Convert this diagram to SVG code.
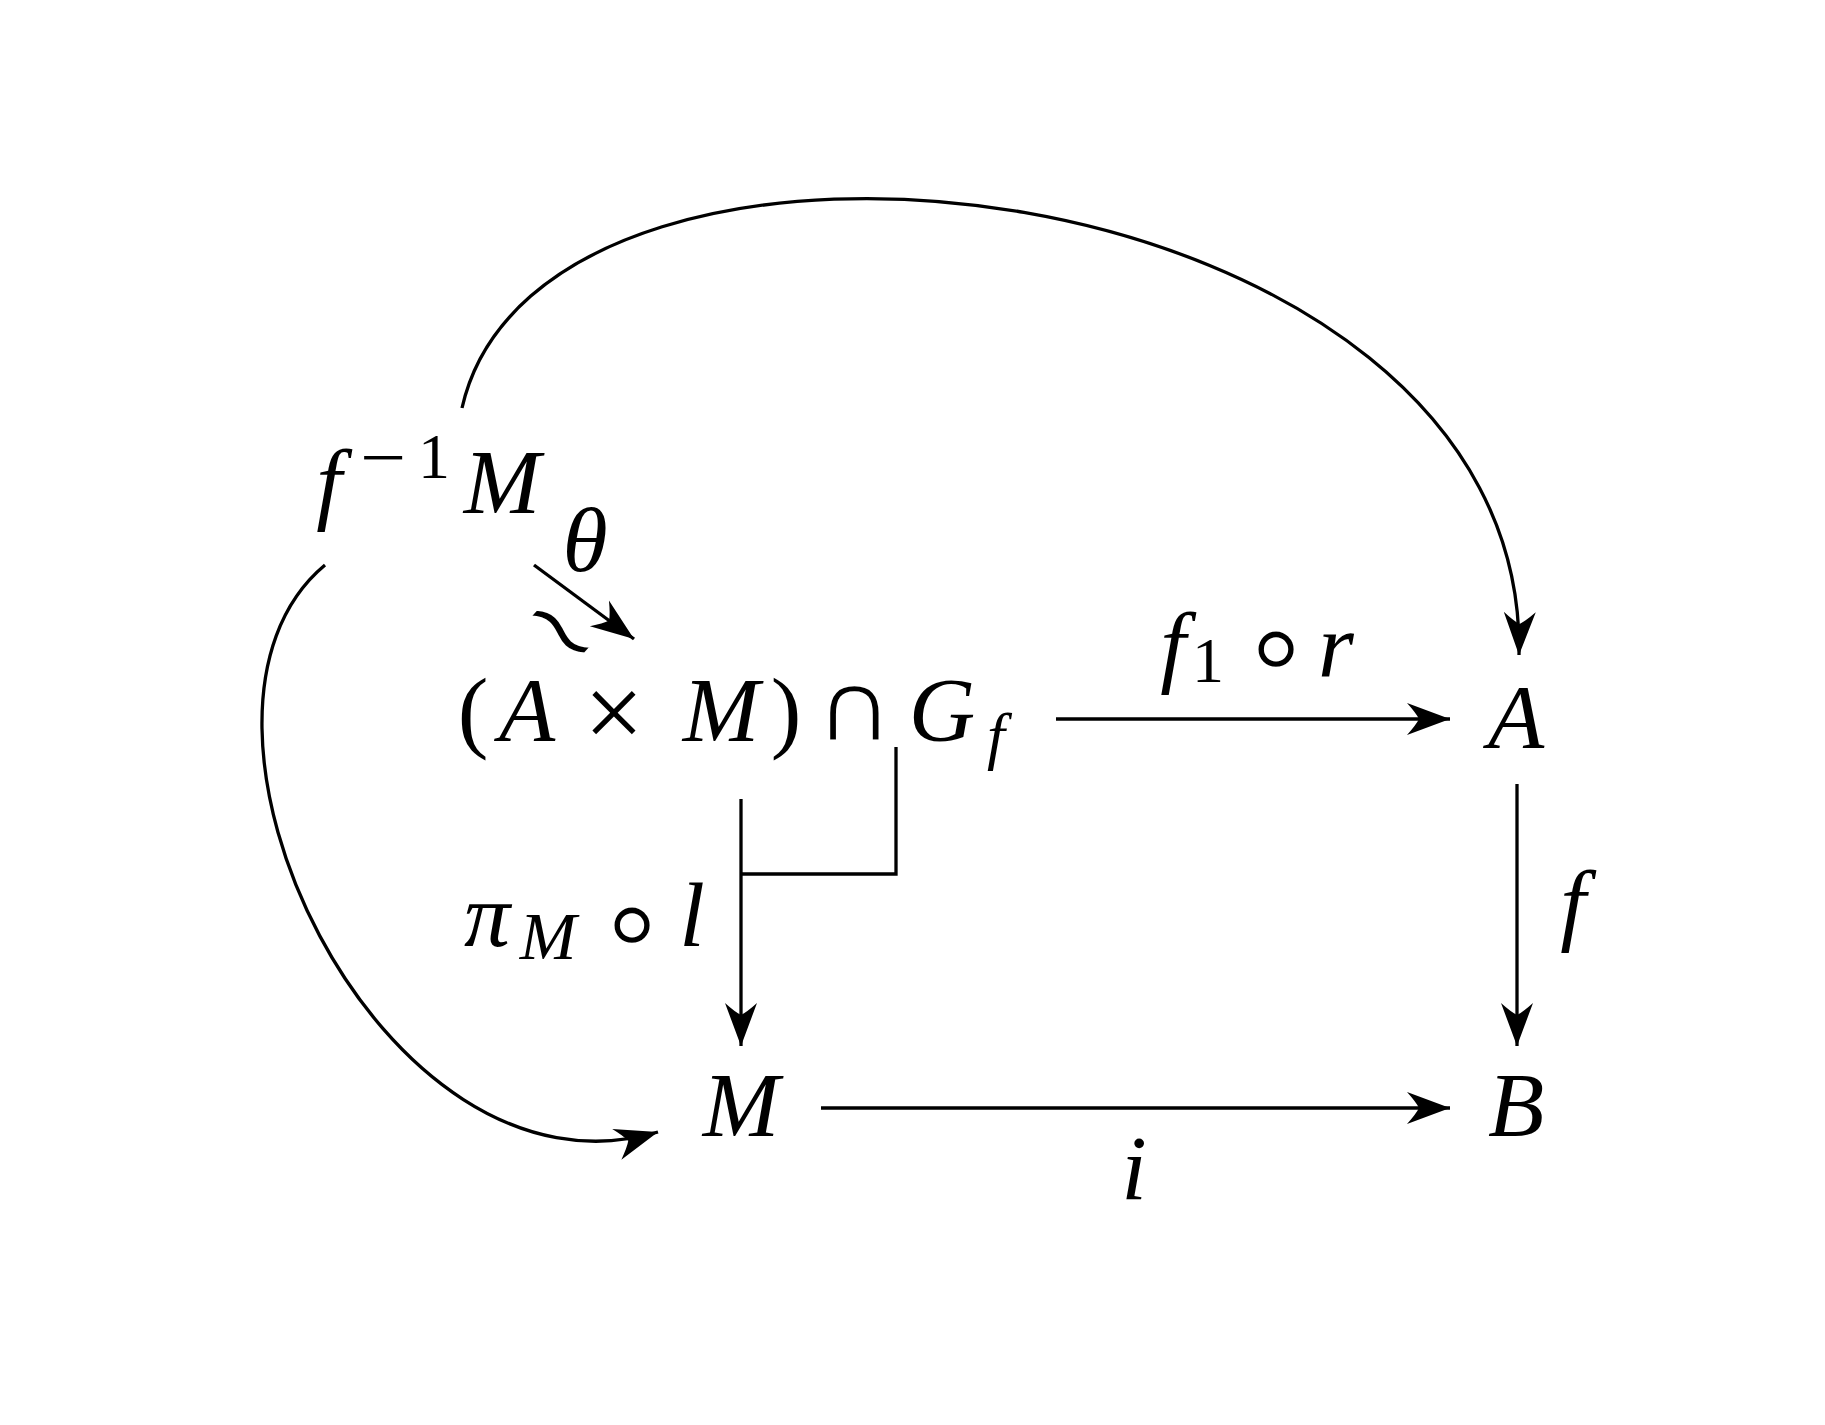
<svg xmlns="http://www.w3.org/2000/svg" width="1825" height="1425" viewBox="0 0 1825 1425">
<style>
.v{font-family:"Liberation Serif","DejaVu Serif",serif;font-style:italic;font-size:92px;fill:#000;text-anchor:middle}
.u{font-family:"Liberation Serif","DejaVu Serif",serif;font-size:92px;fill:#000;text-anchor:middle}
.s{font-size:64px}
.op{font-family:"DejaVu Sans",sans-serif;fill:#000;text-anchor:middle;stroke:#fff;stroke-width:2}
.ln{fill:none;stroke:#000;stroke-width:3.3}
</style>
<defs>
<marker id="ah" markerUnits="userSpaceOnUse" markerWidth="48" markerHeight="40" refX="0" refY="0" viewBox="-46 -20 48 40" orient="auto">
<path d="M0,0 L-43,-16 Q-34,-6 -31,0 Q-34,6 -43,16 Z" fill="#000"/>
</marker>
</defs>
<rect width="1825" height="1425" fill="#fff"/>
<g id="node-finvM">
<text class="v" x="329" y="513">f</text>
<text class="op" x="383" y="478" font-size="64">−</text>
<text class="u s" x="434" y="478">1</text>
<text class="v" x="502" y="513">M</text>
</g>
<g id="node-AxM-Gf">
<text class="u" x="473" y="741">(</text>
<text class="v" x="527" y="741">A</text>
<text class="u" x="614" y="748" style="font-size:106px">×</text>
<text class="v" x="721" y="741">M</text>
<text class="u" x="786" y="741">)</text>
<text class="op" x="0" y="0" font-size="97" transform="translate(854,741) scale(1.12,1)" style="stroke-width:3">∩</text>
<text class="v" x="942" y="741">G</text>
<text class="v s" x="996" y="757">f</text>
</g>
<g id="node-A"><text class="v" x="1516" y="748">A</text></g>
<g id="node-B"><text class="v" x="1516" y="1136">B</text></g>
<g id="node-M"><text class="v" x="741" y="1136">M</text></g>
<g id="connectors">
<path class="ln" d="M462,408 C542,52 1528,160 1519,655" marker-end="url(#ah)"/>
<path class="ln" d="M325,565 C145,715 380,1215 658,1132" marker-end="url(#ah)"/>
<path class="ln" d="M534,565 L634,639" marker-end="url(#ah)"/>
<path class="ln" d="M1056,719 L1450,719" marker-end="url(#ah)"/>
<path class="ln" d="M1517,784 L1517,1046" marker-end="url(#ah)"/>
<path class="ln" d="M821,1108 L1450,1108" marker-end="url(#ah)"/>
<path class="ln" d="M741,799 L741,1046" marker-end="url(#ah)"/>
<path class="ln" d="M896,747 L896,874 L741,874"/>
</g>
<g id="labels">
<text class="v" x="585" y="571">θ</text>
<text class="op" x="0" y="32" font-size="104" transform="translate(560,632) rotate(42)">∼</text>
<text class="v" x="1173" y="676">f</text>
<text class="u s" x="1208" y="682">1</text>
<text class="op" x="1276" y="687" font-size="120">∘</text>
<text class="v" x="1336" y="676">r</text>
<text class="v" x="1573" y="934">f</text>
<text class="v" x="1134" y="1199">i</text>
<text class="v" x="487" y="946">π</text>
<text class="v" x="548" y="959" style="font-size:68px">M</text>
<text class="op" x="632" y="963" font-size="120">∘</text>
<text class="v" x="692" y="946">l</text>
</g>
</svg>
